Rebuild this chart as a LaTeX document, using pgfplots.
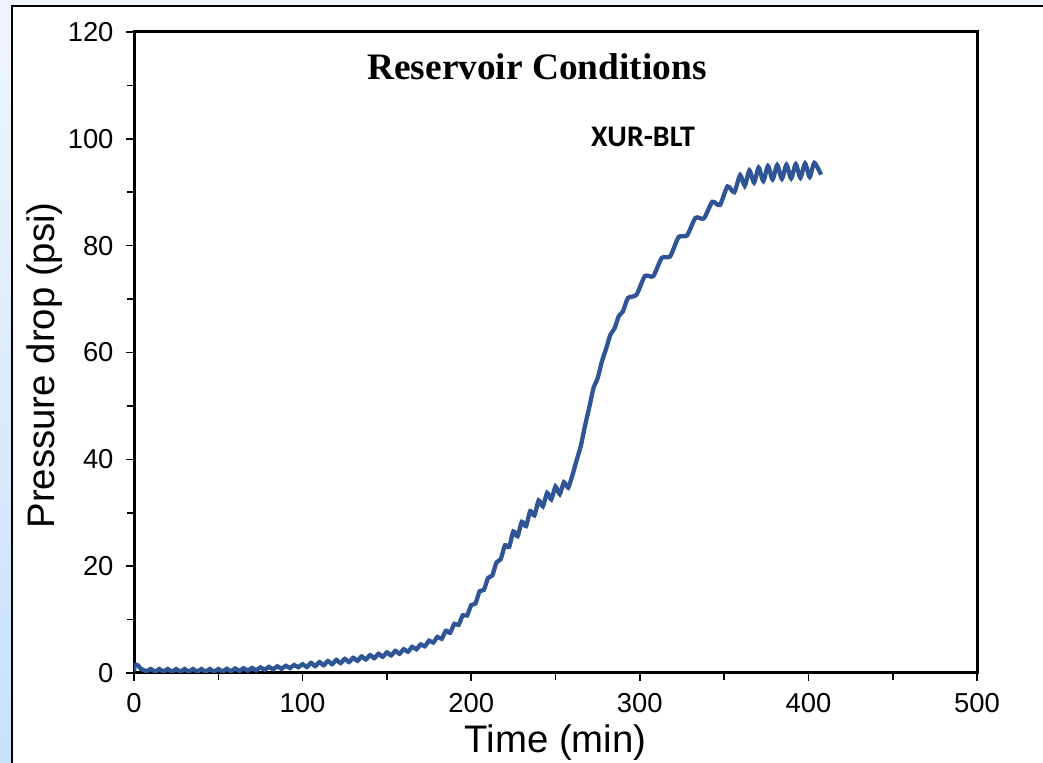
\documentclass[border=0pt]{standalone}
\usepackage{pgfplots}
\pgfplotsset{compat=1.18}
\usepackage{fontspec}
\setmainfont{Liberation Sans}
\newfontfamily\serifb{Liberation Serif}
\newfontfamily\carl{Carlito}
\definecolor{lineblue}{RGB}{47,85,151}
\definecolor{bgtop}{RGB}{240,246,253}
\definecolor{bgbot}{RGB}{200,225,250}
\begin{document}
\begin{tikzpicture}[x=1bp,y=1bp]
\useasboundingbox (0,0) rectangle (1043,763);
\shade[top color=bgtop,bottom color=bgbot] (0,0) rectangle (1043,763);
\fill[white] (13,0) rectangle (1043,756);
\draw[line width=2bp] (12,0) -- (12,757) -- (1043,757);
\begin{axis}[
  at={(134bp,90bp)}, anchor=south west, scale only axis,
  width=843bp, height=641bp,
  xmin=0, xmax=500, ymin=0, ymax=120,
  xtick={0,100,...,500}, ytick={0,20,...,120},
  minor x tick num=1, minor y tick num=1,
  tick align=outside, xtick pos=lower, ytick pos=left,
  major tick length=8bp, minor tick length=7bp,
  every tick/.style={black, line width=1.6bp},
  axis line style={line width=3bp},
  tick label style={font=\fontsize{27.5}{31}\selectfont},
  yticklabel style={xshift=-9bp},
  xticklabel style={yshift=-9bp},
  /pgf/number format/assume math mode=true,
  xlabel={Time (min)}, ylabel={Pressure drop (psi)},
  xlabel style={font=\fontsize{38.5}{44}\selectfont, at={(axis description cs:0.5,0)}, anchor=base, yshift=-80bp},
  ylabel style={font=\fontsize{38.5}{44}\selectfont, at={(axis description cs:0,0.48)}, anchor=base, rotate=0, yshift=80bp},
]
\addplot[lineblue, line width=4.3bp, smooth, tension=0.4] coordinates {
(0,0.3) (0.6,1.5) (2.5,1.4) (4,0.8) (7.5,0.35) (10,0.75) (12.5,0.25) (15,0.75) (17.5,0.25) (20,0.75)
(22.5,0.25) (25,0.75) (27.5,0.25) (30,0.75) (32.5,0.25) (35,0.75) (37.5,0.25) (40,0.75) (42.5,0.25) (45,0.75)
(47.5,0.25) (50,0.75) (52.5,0.28) (55,0.8) (57.5,0.33) (60,0.85) (62.5,0.38) (65,0.9) (67.5,0.43) (70,0.95)
(72.5,0.5) (75,1.05) (77.5,0.6) (80,1.15) (82.5,0.7) (85,1.25) (87.5,0.8) (90,1.35) (92.5,0.93) (95,1.5)
(97.5,1.08) (100,1.65) (102.5,1.13) (105,1.9) (107.5,1.28) (110,2.05) (112.5,1.45) (115,2.25) (117.5,1.65) (120,2.45)
(122.5,1.85) (125,2.65) (127.5,2.05) (130,2.85) (132.5,2.28) (135,3.1) (137.5,2.53) (140,3.35) (142.5,2.78) (145,3.6)
(147.5,3.03) (150,3.85) (152.5,3.3) (155,4.15) (157.5,3.6) (160,4.45) (162.5,3.98) (165,4.9) (167.5,4.43) (170,5.35)
(172.5,5.0) (175,6.05) (177.5,5.7) (180,6.75) (182.5,6.4) (185,7.9) (187.5,7.55) (190,9.2) (192.5,9.0) (195,10.8)
(197.5,10.75) (200,12.7) (202.5,13.0) (205,15.3) (207.5,15.55) (210,17.8) (212.5,18.25) (215,20.7) (217.5,21.3) (220,23.9)
(222.5,23.6) (225,26.5) (227.5,25.6) (230,28.3) (232.5,27.5) (235,30.3) (237.5,29.5) (240,32.3) (242.5,31.2) (245,33.7)
(247.5,32.5) (250,34.9) (252.5,33.5) (255,35.7) (257.5,34.7) (260,37.0) (262.5,39.8) (265,42.5) (267.5,46.3) (270,49.7)
(272.5,53.3) (275,55.2) (277.5,58.3) (280,60.7) (282.5,63.3) (285,64.5) (287.5,66.8) (290,67.7) (293,70.2) (298,70.8)
(303,74.3) (308,74.3) (313,77.7) (318,78.0) (323,81.6) (328,81.9) (333,85.2) (338,85.1) (343,88.2) (347.5,87.6)
(352,91.1) (356,90.0) (359.5,93.2) (362.25,91.2) (365,94.1) (367.75,91.8) (370.5,94.6) (373.25,92.1) (376,94.9) (378.75,92.4)
(381.5,95.1) (384.25,92.5) (387,95.15) (389.75,92.6) (392.5,95.25) (395.25,92.7) (398,95.4) (400.75,92.85) (403.5,95.5) (407.5,93.3)
};
\end{axis}
\node[font=\serifb\bfseries\fontsize{37.5}{44}\selectfont] at (537,696) {Reservoir Conditions};
\node[font=\carl\bfseries\fontsize{30}{34}\selectfont] at (643,626) {XUR-BLT};
\end{tikzpicture}
\end{document}
